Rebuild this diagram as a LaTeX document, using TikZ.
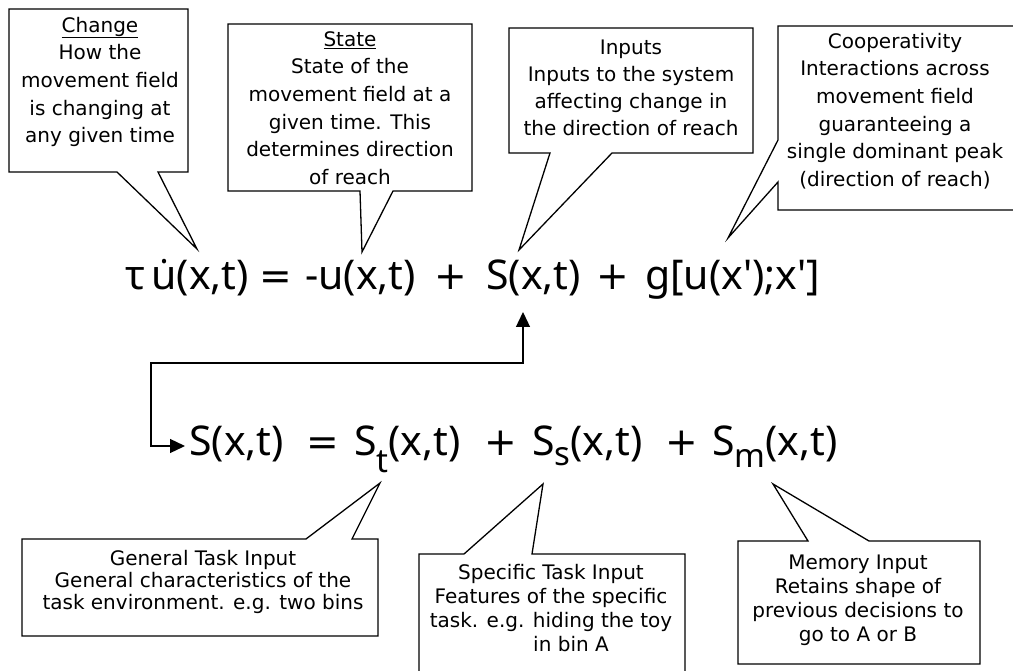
\documentclass[tikz,border=0pt]{standalone}
\usepackage{fontspec}
\setmainfont{DejaVu Sans}
\newfontfamily\eqfont{Noto Sans}
\usepackage{graphicx}
\usetikzlibrary{arrows.meta}
\begin{document}
\begin{tikzpicture}[x=1pt,y=-1pt,
  callout/.style={draw=black, line width=1.3pt, line join=miter},
  boxtext/.style={align=center, inner sep=0pt, font=\fontsize{20}{27.7}\selectfont},
  lowtext/.style={align=center, inner sep=0pt, font=\fontsize{20}{24}\selectfont},
  eqpart/.style={anchor=base west, inner sep=0pt, font=\eqfont\fontsize{41}{44}\selectfont},
  eqop/.style={anchor=base west, inner sep=0pt, font=\fontsize{39}{44}\selectfont},
  link/.style={line width=1.3pt, {Triangle[length=15pt,width=14pt]}-{Triangle[length=15pt,width=14pt]}}
]
\clip (0,0) rectangle (1013,671);
\fill[white] (0,0) rectangle (1013,671);

% tips of the callouts
\coordinate (tipChange) at (197,249);
\coordinate (tipState) at (362,252);
\coordinate (tipInputs) at (519,250);
\coordinate (tipCoop) at (728,238);
\coordinate (tipGen) at (380,483);
\coordinate (tipSpec) at (543,484);
\coordinate (tipMem) at (773,484);

% callout outlines
\draw[callout] (9,9) -- (188,9) -- (188,172) -- (158,172) -- (tipChange) -- (117,172) -- (9,172) -- cycle;
\draw[callout] (228,24) -- (472,24) -- (472,191) -- (393,191) -- (tipState) -- (360,191) -- (228,191) -- cycle;
\draw[callout] (509,28) -- (753,28) -- (753,153) -- (612,153) -- (tipInputs) -- (550,153) -- (509,153) -- cycle;
\draw[callout] (778,26) -- (1030,26) -- (1030,210) -- (778,210) -- (778,182) -- (tipCoop) -- (778,140) -- cycle;
\draw[callout] (22,539) -- (306,539) -- (tipGen) -- (352,539) -- (378,539) -- (378,636) -- (22,636) -- cycle;
\draw[callout] (419,690) -- (419,554) -- (464,554) -- (tipSpec) -- (532,554) -- (685,554) -- (685,690);
\draw[callout] (738,541) -- (808,541) -- (tipMem) -- (869,541) -- (980,541) -- (980,664) -- (738,664) -- cycle;

% callout texts
\node[boxtext] (tChange) at (100,82) {\underline{Change}\\How the\\movement field\\is changing at\\any given time};
\node[boxtext] (tState) at (350,108) {\underline{State}\\State of the\\movement field at a\\given time. This\\determines direction\\of reach};
\node[boxtext, font=\fontsize{20}{27}\selectfont] (tInputs) at (631,88) {Inputs\\Inputs to the system\\affecting change in\\the direction of reach};
\node[boxtext] (tCoop) at (895,111) {Cooperativity\\Interactions across\\movement field\\guaranteeing a\\single dominant peak\\(direction of reach)};
\node[lowtext, font=\fontsize{20}{22}\selectfont] (tGen) at (203,582) {General Task Input\\General characteristics of the\\task environment. e.g. two bins};
\node[lowtext] (tSpec) at (551,608) {Specific Task Input\\Features of the specific\\task. e.g. hiding the toy\\\hspace*{40pt}in bin A};
\node[lowtext] (tMem) at (858,600) {Memory Input\\Retains shape of\\previous decisions to\\go to A or B};

% equation 1
\node[eqpart] (e1a) at (125,290) {τ\hspace{0.15em}\.{u}(x,t)};
\node[eqop] (e1b) at (259.5,290) {=};
\node[eqpart] (e1c) at (305,290) {-u(x,t)};
\node[eqop] (e1d) at (434.5,290) {+};
\node[eqpart] (e1e) at (486,290) {S(x,t)};
\node[eqop] (e1f) at (596.5,290) {+};
\node[eqpart] (e1g) at (645,290) {g[u(x\textquotesingle);x\textquotesingle]};

% equation 2
\node[eqpart] (e2a) at (189,455) {S(x,t)};
\node[eqop] (e2b) at (306.5,455) {=};
\node[eqpart] (e2c) at (354,455) {S\raisebox{-17pt}{\fontsize{33}{35}\selectfont t}(x,t)};
\node[eqop] (e2d) at (484.5,455) {+};
\node[eqpart] (e2e) at (532,455) {S\raisebox{-10pt}{\fontsize{33}{35}\selectfont s}(x,t)};
\node[eqop] (e2f) at (665.5,455) {+};
\node[eqpart] (e2g) at (712,455) {S\raisebox{-12pt}{\fontsize{33}{35}\selectfont m}(x,t)};

% connector from the second equation up to S(x,t)
\coordinate (arrTop) at (523,312);
\coordinate (arrEnd) at (185,446);
\draw[link] (arrTop) -- (523,363) -- (151,363) -- (151,446) -- (arrEnd);
\end{tikzpicture}
\end{document}
